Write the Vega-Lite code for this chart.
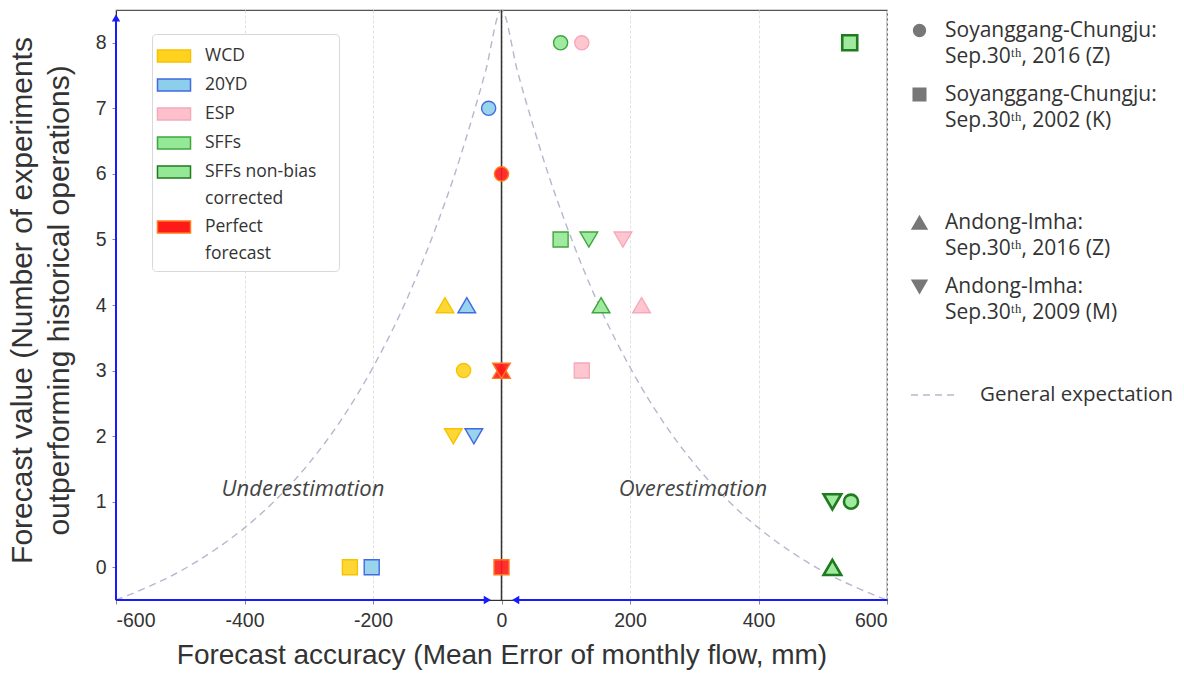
{
  "$schema": "https://vega.github.io/schema/vega-lite/v6.json",
  "autosize": {"type": "none"},
  "width": 771,
  "height": 590,
  "padding": {"left": 116, "top": 10, "right": 297, "bottom": 77},
  "background": "white",
  "config": {
    "view": {"stroke": "#555555", "strokeWidth": 1.2},
    "style": {"guide-label": {"lineHeight": 26.5}}
  },
  "encoding": {
    "x": {
      "field": "x",
      "type": "quantitative",
      "scale": {"domain": [-600, 600], "nice": false, "zero": false},
      "axis": {
        "values": [-600, -400, -200, 0, 200, 400, 600],
        "labelExpr": "'' + datum.value",
        "labelFont": "Liberation Sans",
        "labelFontSize": 19.5,
        "labelColor": "#333333",
        "titleFont": "Liberation Sans",
        "titleFontWeight": "normal",
        "titleColor": "#333333",
        "domainColor": "#333333",
        "tickColor": "#888888",
        "tickSize": 4,
        "title": "Forecast accuracy (Mean Error of monthly flow, mm)",
        "titleFontSize": 28,
        "titlePadding": 12,
        "labelPadding": 7,
        "grid": true,
        "gridColor": "#e0e0e0",
        "gridDash": [3, 2],
        "gridWidth": 1
      }
    },
    "y": {
      "field": "y",
      "type": "quantitative",
      "scale": {"domain": [-0.5, 8.5], "nice": false, "zero": false},
      "axis": {
        "values": [0, 1, 2, 3, 4, 5, 6, 7, 8],
        "labelFont": "Liberation Sans",
        "labelFontSize": 19.5,
        "labelColor": "#333333",
        "titleFont": "Liberation Sans",
        "titleFontWeight": "normal",
        "titleColor": "#333333",
        "domainColor": "#333333",
        "tickColor": "#888888",
        "tickSize": 4,
        "title": ["Forecast value (Number of experiments", "outperforming historical operations)"],
        "titleFontSize": 30,
        "titleLineHeight": 37,
        "titleX": -79,
        "titleY": 290,
        "grid": false,
        "labelPadding": 6
      }
    }
  },
  "layer": [
    {
      "data": {"values": [
        {"x": -600, "y": -0.5}, {"x": -550, "y": -0.3}, {"x": -500, "y": -0.06}, {"x": -450, "y": 0.24},
        {"x": -400, "y": 0.6}, {"x": -350, "y": 1.04}, {"x": -300, "y": 1.58}, {"x": -250, "y": 2.24},
        {"x": -200, "y": 3.05}, {"x": -150, "y": 4.03}, {"x": -100, "y": 5.24}, {"x": -75, "y": 5.93},
        {"x": -50, "y": 6.71}, {"x": -25, "y": 7.56}, {"x": 0, "y": 8.5},
        {"x": 25, "y": 7.56}, {"x": 50, "y": 6.71}, {"x": 75, "y": 5.93}, {"x": 100, "y": 5.24},
        {"x": 150, "y": 4.03}, {"x": 200, "y": 3.05}, {"x": 250, "y": 2.24}, {"x": 300, "y": 1.58},
        {"x": 350, "y": 1.04}, {"x": 400, "y": 0.6}, {"x": 450, "y": 0.24}, {"x": 500, "y": -0.06},
        {"x": 550, "y": -0.3}, {"x": 600, "y": -0.5}
      ]},
      "transform": [{"calculate": "'General expectation'", "as": "series"}],
      "mark": {"type": "line", "interpolate": "monotone", "color": "#b4b8cc", "strokeWidth": 1.4},
      "encoding": {
        "strokeDash": {
          "field": "series",
          "type": "nominal",
          "scale": {"domain": ["General expectation"], "range": [[7, 5]]},
          "legend": {
            "orient": "none",
            "legendX": 794,
            "legendY": 360,
            "title": null,
            "symbolType": "stroke",
            "symbolSize": 2304,
            "symbolStrokeColor": "#b4b8cc",
            "symbolStrokeWidth": 1.4,
            "labelFont": "Open Sans",
            "labelFontSize": 20.5,
            "labelColor": "#333333",
            "labelLimit": 400,
            "labelOffset": 20,
            "padding": 0
          }
        }
      }
    },
    {
      "data": {"values": [{"x": 0, "y": -0.5, "y2": 8.5}]},
      "mark": {"type": "rule", "color": "#333333", "strokeWidth": 1.5},
      "encoding": {"y2": {"field": "y2"}}
    },
    {
      "data": {"values": [
        {"x": -600, "x2": -600, "y": -0.5, "y2": 8.4},
        {"x": -600, "x2": -20, "y": -0.5, "y2": -0.5},
        {"x": 600, "x2": 20, "y": -0.5, "y2": -0.5}
      ]},
      "mark": {"type": "rule", "color": "#1a1aff", "strokeWidth": 2},
      "encoding": {"x2": {"field": "x2"}, "y2": {"field": "y2"}}
    },
    {
      "data": {"values": [{"x": -600, "y": 8.38}]},
      "mark": {"type": "point", "shape": "triangle-up", "filled": true, "color": "#1a1aff", "size": 70, "opacity": 1}
    },
    {
      "data": {"values": [{"x": -22, "y": -0.5}]},
      "mark": {"type": "point", "shape": "triangle-right", "filled": true, "color": "#1a1aff", "size": 70, "opacity": 1}
    },
    {
      "data": {"values": [{"x": 22, "y": -0.5}]},
      "mark": {"type": "point", "shape": "triangle-left", "filled": true, "color": "#1a1aff", "size": 70, "opacity": 1}
    },
    {
      "data": {"values": [
        {"method": "WCD", "site": "A16", "x": -88, "y": 4},
        {"method": "WCD", "site": "S16", "x": -59, "y": 3},
        {"method": "WCD", "site": "A09", "x": -75, "y": 2},
        {"method": "WCD", "site": "S02", "x": -236, "y": 0},
        {"method": "20YD", "site": "S16", "x": -20, "y": 7},
        {"method": "20YD", "site": "A16", "x": -54, "y": 4},
        {"method": "20YD", "site": "A09", "x": -43, "y": 2},
        {"method": "20YD", "site": "S02", "x": -202, "y": 0},
        {"method": "ESP", "site": "S16", "x": 125, "y": 8},
        {"method": "ESP", "site": "A09", "x": 189, "y": 5},
        {"method": "ESP", "site": "A16", "x": 218, "y": 4},
        {"method": "ESP", "site": "S02", "x": 125, "y": 3},
        {"method": "SFFs", "site": "S16", "x": 92, "y": 8},
        {"method": "SFFs", "site": "S02", "x": 92, "y": 5},
        {"method": "SFFs", "site": "A09", "x": 136, "y": 5},
        {"method": "SFFs", "site": "A16", "x": 155, "y": 4},
        {"method": "Perfect forecast", "site": "S16", "x": 0, "y": 6},
        {"method": "Perfect forecast", "site": "A16", "x": 0, "y": 3},
        {"method": "Perfect forecast", "site": "A09", "x": 0, "y": 3},
        {"method": "Perfect forecast", "site": "S02", "x": 0, "y": 0},
        {"method": "SFFs non-bias corrected", "site": "S02", "x": 542, "y": 8},
        {"method": "SFFs non-bias corrected", "site": "A09", "x": 515, "y": 1},
        {"method": "SFFs non-bias corrected", "site": "S16", "x": 544, "y": 1},
        {"method": "SFFs non-bias corrected", "site": "A16", "x": 515, "y": 0}
      ]},
      "mark": {"type": "point", "filled": true, "size": 200, "opacity": 1, "fillOpacity": 0.9},
      "encoding": {
        "strokeWidth": {"condition": {"test": "datum.method === 'SFFs non-bias corrected'", "value": 2.6}, "value": 1.4},
        "fill": {
          "field": "method",
          "type": "nominal",
          "scale": {
            "domain": ["WCD", "20YD", "ESP", "SFFs", "SFFs non-bias corrected", "Perfect forecast"],
            "range": ["#FFD21F", "#8DCFEA", "#FFC0CB", "#95E895", "#95E895", "#FF1A1A"]
          },
          "legend": {
            "orient": "none",
            "legendX": 36,
            "legendY": 24,
            "title": null,
            "symbolType": "M-1.4,-0.5H1.4V0.5H-1.4Z",
            "symbolSize": 556,
            "labelFont": "Open Sans",
            "labelFontSize": 17.5,
            "labelColor": "#333333",
            "labelLimit": 400,
            "labelOffset": 18,
            "rowPadding": 7,
            "padding": 9,
            "fillColor": "white",
            "strokeColor": "#d8d8d8",
            "cornerRadius": 4,
            "labelExpr": "datum.value === 'SFFs non-bias corrected' ? ['SFFs non-bias\u2800', 'corrected'] : datum.value === 'Perfect forecast' ? ['Perfect', 'forecast'] : datum.label",
            "encode": {
              "labels": {
                "dy": {"value": {"expr": "(datum.value === 'SFFs non-bias corrected' || datum.value === 'Perfect forecast') ? 13.25 : 0"}}
              }
            }
          }
        },
        "stroke": {
          "field": "method",
          "type": "nominal",
          "scale": {
            "domain": ["WCD", "20YD", "ESP", "SFFs", "SFFs non-bias corrected", "Perfect forecast"],
            "range": ["#F5C400", "#4169E1", "#F4A9BC", "#3FA53F", "#1E7B1E", "#FF7A1A"]
          },
          "legend": null
        },
        "shape": {
          "field": "site",
          "type": "nominal",
          "scale": {
            "domain": ["S16", "S02", "gap", "A16", "A09"],
            "range": ["circle", "M-1.06,-1.06H1.06V1.06H-1.06Z", "M0,0", "M0,-1.05L1.25,1.1L-1.25,1.1Z", "M0,1.1L1.25,-1.05L-1.25,-1.05Z"]
          },
          "legend": {
            "orient": "none",
            "legendX": 793,
            "legendY": 10,
            "title": null,
            "symbolSize": 140,
            "symbolFillColor": "#777777",
            "symbolStrokeColor": "#777777",
            "labelFont": "Open Sans",
            "labelFontSize": 21,
            "labelColor": "#333333",
            "labelLimit": 400,
            "labelOffset": 15,
            "rowPadding": 16,
            "padding": 0,
            "labelExpr": "datum.value === 'S16' ? ['Soyanggang-Chungju:', 'Sep.30ᵗʰ, 2016 (Z)'] : datum.value === 'S02' ? ['Soyanggang-Chungju:', 'Sep.30ᵗʰ, 2002 (K)'] : datum.value === 'A16' ? ['Andong-Imha:', 'Sep.30ᵗʰ, 2016 (Z)'] : datum.value === 'A09' ? ['Andong-Imha:', 'Sep.30ᵗʰ, 2009 (M)'] : ['\u2800', '\u2800']",
            "encode": {
              "symbols": {
                "fill": {"value": "#777777"},
                "stroke": {"value": "transparent"}
              },
              "labels": {
                "dy": {"value": 13.25}
              }
            }
          }
        }
      }
    },
    {
      "data": {"values": [
        {"x": -309, "y": 1.19, "label": "Underestimation"},
        {"x": 298, "y": 1.19, "label": "Overestimation"}
      ]},
      "mark": {"type": "text", "font": "Open Sans", "fontSize": 22, "fontStyle": "italic", "color": "#444444"},
      "encoding": {"text": {"field": "label"}}
    }
  ]
}
